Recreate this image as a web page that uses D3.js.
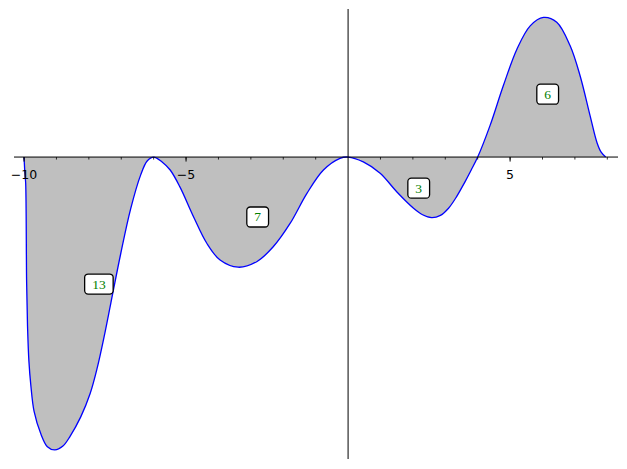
<!DOCTYPE html>
<html>
<head>
<meta charset="utf-8">
<script src="https://cdn.jsdelivr.net/npm/d3@7"></script>
<style>
html,body{margin:0;padding:0;background:#fff;}
svg{display:block;}
</style>
</head>
<body>
<svg id="chart" width="627" height="469"></svg>
<script>
// curve samples (x, y)
const xs = [-10, -9.97, -9.95, -9.92, -9.89, -9.85, -9.79, -9.69, -9.48, -9.28, -9.05, -8.80, -8.58, -8.25, -7.96, -7.74, -7.53, -7.32, -7.02, -6.71, -6.40, -6.20, -6.0,
  -5.74, -5.49, -5.19, -4.77, -4.36, -3.95, -3.39, -2.82, -2.31, -1.79, -1.27, -0.76, -0.25, 0,
  0.47, 0.99, 1.50, 2.02, 2.30, 2.58, 2.85, 3.10, 3.35, 3.60, 3.80, 4.0,
  4.38, 4.79, 5.21, 5.62, 6.03, 6.44, 6.85, 7.16, 7.47, 7.68, 7.81, 7.95];
const ys = [0, -0.56, -0.80, -3.89, -5.30, -6.30, -7.05, -7.85, -8.55, -8.94, -9.04, -8.92, -8.62, -8.02, -7.30, -6.50, -5.55, -4.50, -3.00, -1.60, -0.55, -0.12, 0,
  -0.15, -0.40, -0.92, -1.84, -2.66, -3.18, -3.40, -3.23, -2.77, -2.05, -1.12, -0.40, -0.04, 0,
  -0.15, -0.50, -1.07, -1.58, -1.78, -1.87, -1.80, -1.58, -1.22, -0.78, -0.40, 0,
  0.97, 2.20, 3.33, 4.05, 4.31, 4.16, 3.44, 2.51, 1.27, 0.45, 0.15, 0];
// region labels
const labelText = ["13", "7", "3", "6"];
const labelX = [-7.69, -2.79, 2.18, 6.16];
const labelY = [-3.92, -1.85, -0.96, 1.94];
// tick labels
const majorTicks = [-10, -5, 5];
const majorTickLabels = ["\u221210", "\u22125", "5"];
const minorTicks = [-10, -9, -8, -7, -6, -5, -4, -3, -2, -1, 1, 2, 3, 4, 5, 6, 7, 8];

const svg = d3.select("#chart");
const x = d3.scaleLinear().domain([-10.31, 8.33]).range([14, 618]);
const y = d3.scaleLinear().domain([-9.32, 4.57]).range([459, 9]);

const pts = xs.map((v, i) => [v, ys[i]]);
const curve = d3.curveCatmullRom.alpha(0.5);

svg.append("path")
  .datum(pts)
  .attr("fill", "#bfbfbf")
  .attr("d", d3.area().x(d => x(d[0])).y0(y(0)).y1(d => y(d[1])).curve(curve));

svg.append("path")
  .datum(pts)
  .attr("fill", "none")
  .attr("stroke", "#0000ff")
  .attr("stroke-width", 1.3)
  .attr("d", d3.line().x(d => x(d[0])).y(d => y(d[1])).curve(curve));

// axes
const y0 = y(0);
const xAxis = svg.append("g").attr("transform", `translate(0,${y0})`);
xAxis.append("line").attr("x1", 14).attr("x2", 618).attr("y1", 0).attr("y2", 0)
  .attr("stroke", "#000").attr("stroke-width", 1);
xAxis.selectAll("line.minor").data(minorTicks).enter().append("line")
  .attr("class", "minor")
  .attr("x1", d => x(d)).attr("x2", d => x(d)).attr("y1", 0).attr("y2", 2.5)
  .attr("stroke", "#000").attr("stroke-width", 0.8);
xAxis.selectAll("line.major").data(majorTicks).enter().append("line")
  .attr("class", "major")
  .attr("x1", d => x(d)).attr("x2", d => x(d)).attr("y1", 0).attr("y2", 4.5)
  .attr("stroke", "#000").attr("stroke-width", 1);
xAxis.selectAll("text").data(majorTicks).enter().append("text")
  .attr("x", d => x(d)).attr("y", 22)
  .attr("text-anchor", "middle")
  .attr("font-family", "DejaVu Sans")
  .attr("font-size", 12.5)
  .attr("fill", "#000")
  .text((d, i) => majorTickLabels[i]);

svg.append("line").attr("x1", x(0)).attr("x2", x(0)).attr("y1", 9).attr("y2", 459)
  .attr("stroke", "#000").attr("stroke-width", 1);

// labels
const lab = svg.append("g");
labelText.forEach((t, i) => {
  const cx = x(labelX[i]), cy = y(labelY[i]);
  const g = lab.append("g");
  const txt = g.append("text")
    .attr("x", cx).attr("y", cy + 4.5)
    .attr("text-anchor", "middle")
    .attr("font-family", "Liberation Serif, DejaVu Serif, serif")
    .attr("font-size", 13.5)
    .attr("fill", "#008000")
    .text(t);
  const w = Math.max(21.5, txt.node().getComputedTextLength() + 15);
  g.insert("rect", "text")
    .attr("x", cx - w / 2).attr("y", cy - 10)
    .attr("width", w).attr("height", 20)
    .attr("rx", 3.5).attr("ry", 3.5)
    .attr("fill", "#fff").attr("stroke", "#000").attr("stroke-width", 1.3);
});
</script>
</body>
</html>
